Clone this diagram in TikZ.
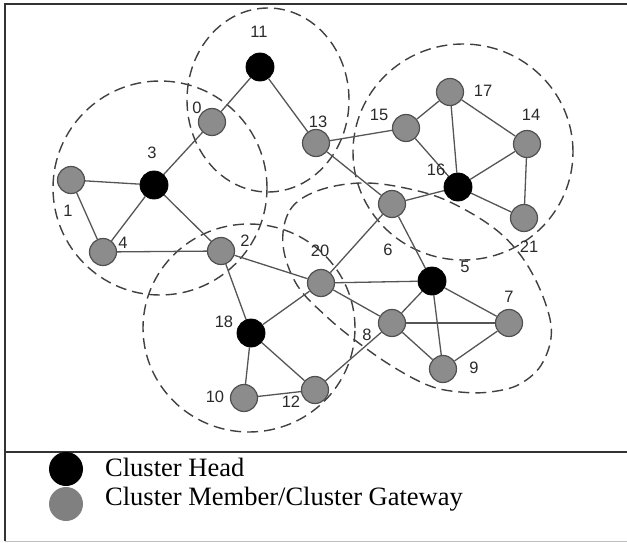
\documentclass[tikz,border=0pt]{standalone}
\usepackage{fontspec}
\setmainfont{Liberation Serif}
\newfontfamily\labelfont{Liberation Sans}
\usetikzlibrary{backgrounds}
\definecolor{nodegray}{HTML}{8C8C8C}
\definecolor{nodeedge}{HTML}{505050}
\definecolor{linkcol}{HTML}{555555}
\definecolor{dashcol}{HTML}{404040}
\definecolor{labelcol}{HTML}{2A2A2A}
\definecolor{legendgray}{HTML}{808080}
\definecolor{bordercol}{HTML}{333333}
\begin{document}
\begin{tikzpicture}[x=1pt,y=-1pt,
  head/.style={circle,fill=black,draw=black,line width=0.8pt,minimum size=28pt,inner sep=0pt},
  member/.style={circle,fill=nodegray,draw=nodeedge,line width=1.2pt,minimum size=27pt,inner sep=0pt},
  lbl/.style={font=\labelfont\fontsize{16.5}{16.5}\selectfont,text=labelcol,inner sep=0pt},
  link/.style={draw=linkcol,line width=1.3pt},
  cluzone/.style={draw=dashcol,dash pattern=on 11pt off 6pt,line width=1.4pt},
  border/.style={draw=bordercol,line width=1.5pt},
  legdot/.style={circle,minimum size=34pt,inner sep=0pt},
  legtext/.style={font=\fontsize{26.5}{26.5}\selectfont,anchor=base west,inner sep=0pt}
]
\useasboundingbox (0,0) rectangle (627,543);

% frame
\draw[border] (5,541) -- (5,4) -- (627,4);
\draw[border] (5,452) -- (627,452);
\draw[draw=black!25,line width=1pt] (5,541.5) -- (627,541.5);

% nodes
\node[head]   (n11) at (260,67) {};
\node[member] (n0)  at (212,122) {};
\node[head]   (n3)  at (154,185) {};
\node[member] (n1)  at (71,180) {};
\node[member] (n4)  at (103,252) {};
\node[member] (n2)  at (221,251) {};
\node[member] (n13) at (316,143) {};
\node[member] (n15) at (406,128) {};
\node[member] (n17) at (450,92) {};
\node[member] (n14) at (527,144) {};
\node[head]   (n16) at (458,187) {};
\node[member] (n21) at (524,218) {};
\node[member] (n6)  at (392,204) {};
\node[head]   (n5)  at (432,281) {};
\node[member] (n20) at (321,283) {};
\node[head]   (n18) at (251,333) {};
\node[member] (n8)  at (392,323) {};
\node[member] (n7)  at (509,323) {};
\node[member] (n9)  at (443,369) {};
\node[member] (n10) at (244,398) {};
\node[member] (n12) at (315,390) {};

% labels
\node[lbl] (l11) at (259,32) {11};
\node[lbl] (l0)  at (197,108) {0};
\node[lbl] (l3)  at (152,153) {3};
\node[lbl] (l1)  at (68,211) {1};
\node[lbl] (l4)  at (123,243) {4};
\node[lbl] (l2)  at (245,241) {2};
\node[lbl] (l13) at (318,122) {13};
\node[lbl] (l15) at (379,115) {15};
\node[lbl] (l17) at (483,91) {17};
\node[lbl] (l14) at (531,115) {14};
\node[lbl] (l16) at (436,170) {16};
\node[lbl] (l21) at (529,247) {21};
\node[lbl] (l6)  at (388,250) {6};
\node[lbl] (l20) at (320,251) {20};
\node[lbl] (l5)  at (465,267) {5};
\node[lbl] (l18) at (224,322) {18};
\node[lbl] (l8)  at (367,335) {8};
\node[lbl] (l7)  at (509,297) {7};
\node[lbl] (l9)  at (474,368) {9};
\node[lbl] (l10) at (215,397) {10};
\node[lbl] (l12) at (291,402) {12};

\begin{scope}[on background layer]
% cluster zones
\draw[cluzone] (160,188) ellipse [x radius=107pt, y radius=107pt];
\draw[cluzone] (268,100) ellipse [x radius=81pt, y radius=92pt];
\draw[cluzone] (463,152) ellipse [x radius=110pt, y radius=108pt];
\draw[cluzone] (249,328) ellipse [x radius=106pt, y radius=104pt];
\draw[cluzone] plot[smooth cycle, tension=0.6] coordinates {(283,245) (290,210) (317,191) (360,183) (405,188) (450,202) (500,233) (532,273) (551,325) (543,362) (520,384) (490,392) (460,392) (430,386) (395,368) (360,344) (327,317) (297,285)};

% links
\draw[link] (n11) -- (n0);
\draw[link] (n11) -- (n13);
\draw[link] (n0) -- (n3);
\draw[link] (n3) -- (n1);
\draw[link] (n3) -- (n4);
\draw[link] (n3) -- (n2);
\draw[link] (n1) -- (n4);
\draw[link] (n4) -- (n2);
\draw[link] (n2) -- (n20);
\draw[link] (n2) -- (n18);
\draw[link] (n13) -- (n15);
\draw[link] (n13) -- (n6);
\draw[link] (n15) -- (n17);
\draw[link] (n15) -- (n16);
\draw[link] (n17) -- (n16);
\draw[link] (n17) -- (n14);
\draw[link] (n14) -- (n16);
\draw[link] (n14) -- (n21);
\draw[link] (n16) -- (n21);
\draw[link] (n16) -- (n6);
\draw[link] (n6) -- (n20);
\draw[link] (n6) -- (n5);
\draw[link] (n20) -- (n5);
\draw[link] (n20) -- (n8);
\draw[link] (n20) -- (n18);
\draw[link] (n5) -- (n8);
\draw[link] (n5) -- (n7);
\draw[link] (n5) -- (n9);
\draw[link] (n8) -- (n7);
\draw[link] (n8) -- (n9);
\draw[link] (n7) -- (n9);
\draw[link] (n8) -- (n12);
\draw[link] (n18) -- (n10);
\draw[link] (n18) -- (n12);
\draw[link] (n10) -- (n12);
\end{scope}

% legend
\node[legdot,fill=legendgray] (lg) at (66,504) {};
\node[legdot,fill=black] (lh) at (66,469) {};
\node[legtext] (th) at (105,476) {Cluster Head};
\node[legtext] (tg) at (105,505) {Cluster Member/Cluster Gateway};
\end{tikzpicture}
\end{document}
